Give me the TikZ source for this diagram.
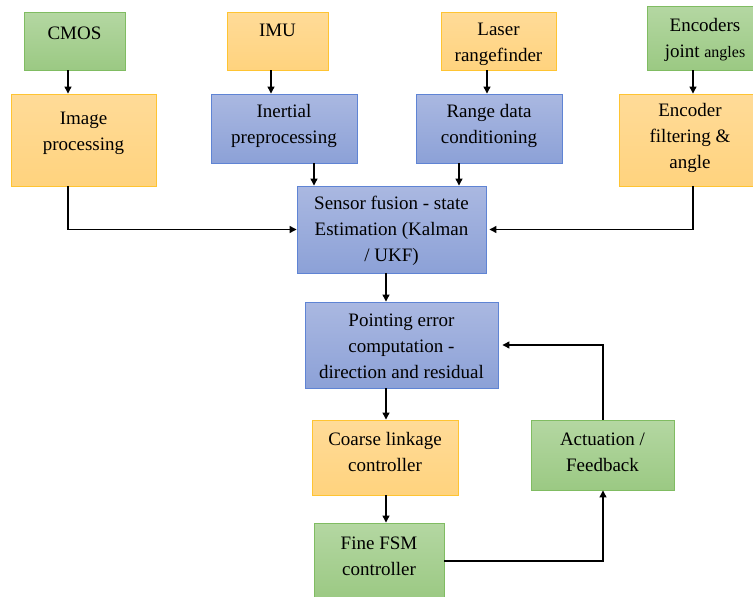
\documentclass[tikz,border=0pt]{standalone}
\usepackage{fontspec}
\setmainfont{Liberation Serif}
\usetikzlibrary{arrows.meta}
\definecolor{gtop}{RGB}{180,215,162}
\definecolor{gbot}{RGB}{155,201,131}
\definecolor{gline}{RGB}{128,188,98}
\definecolor{otop}{RGB}{255,219,152}
\definecolor{obot}{RGB}{255,211,126}
\definecolor{oline}{RGB}{255,196,50}
\definecolor{btop}{RGB}{170,184,225}
\definecolor{bbot}{RGB}{140,161,215}
\definecolor{bline}{RGB}{95,132,212}
\tikzset{
  box/.style={rectangle, inner sep=0pt, line width=0.9pt},
  greenbox/.style={box, draw=gline, top color=gtop, bottom color=gbot},
  orangebox/.style={box, draw=oline, top color=otop, bottom color=obot},
  bluebox/.style={box, draw=bline, top color=btop, bottom color=bbot},
  lbl/.style={inner sep=0pt, align=center, font=\fontsize{19}{26}\selectfont, text=black},
  conn/.style={line width=1.2pt, -{Triangle[length=7pt,width=7pt]}}
}
\begin{document}
\begin{tikzpicture}[x=1pt,y=-1pt]
\useasboundingbox (0,0) rectangle (753,597);
% boxes
\node[greenbox, minimum width=101pt, minimum height=58pt] (cmos) at (74.5,41) {};
\node[orangebox, minimum width=101pt, minimum height=58pt] (imu) at (277.5,41) {};
\node[orangebox, minimum width=115pt, minimum height=58pt] (laser) at (498.5,41) {};
\node[greenbox, minimum width=116pt, minimum height=64pt] (enc) at (705,38) {};
\node[orangebox, minimum width=145pt, minimum height=92pt] (img) at (83.5,140) {};
\node[bluebox, minimum width=146pt, minimum height=69pt] (inert) at (284,128.5) {};
\node[bluebox, minimum width=146pt, minimum height=69pt] (range) at (489,128.5) {};
\node[orangebox, minimum width=142pt, minimum height=92pt] (encf) at (690,140) {};
\node[bluebox, minimum width=189pt, minimum height=87pt] (fus) at (391.5,229.5) {};
\node[bluebox, minimum width=193pt, minimum height=86pt] (pe) at (401.5,345) {};
\node[orangebox, minimum width=146pt, minimum height=75pt] (coarse) at (385,457.5) {};
\node[greenbox, minimum width=143pt, minimum height=70pt] (act) at (602.5,455) {};
\node[greenbox, minimum width=130pt, minimum height=76pt] (fine) at (379,561) {};
% labels
\node[lbl] (cmosT) at (74.5,33.5) {CMOS};
\node[lbl] (imuT) at (277.5,30.5) {IMU};
\node[lbl] (laserT) at (498.5,44.5) {Laser\\rangefinder};
\node[lbl] (encT) at (705,40) {Encoders\\joint {\fontsize{16}{20}\selectfont angles}};
\node[lbl] (imgT) at (83.5,133.5) {Image\\processing};
\node[lbl] (inertT) at (284,126) {Inertial\\preprocessing};
\node[lbl] (rangeT) at (489,125.5) {Range data\\conditioning};
\node[lbl] (encfT) at (690,138) {Encoder\\filtering \&\\angle};
\node[lbl] (fusT) at (391.5,231) {Sensor fusion - state\\Estimation (Kalman\\/ UKF)};
\node[lbl] (peT) at (401.5,346) {Pointing error\\computation -\\direction and residual};
\node[lbl] (coarseT) at (385,452) {Coarse linkage\\controller};
\node[lbl] (actT) at (602.5,452) {Actuation /\\Feedback};
\node[lbl] (fineT) at (379,556) {Fine FSM\\controller};
% connectors
\draw[conn] (cmos.south -| 68,0) -- (img.north -| 68,0);
\draw[conn] (imu.south -| 271,0) -- (inert.north -| 271,0);
\draw[conn] (laser.south -| 487,0) -- (range.north -| 487,0);
\draw[conn] (enc.south -| 693,0) -- (encf.north -| 693,0);
\draw[conn] (inert.south -| 314,0) -- (fus.north -| 314,0);
\draw[conn] (range.south -| 459,0) -- (fus.north -| 459,0);
\draw[conn] (img.south -| 68,0) |- (fus.west);
\draw[conn] (encf.south -| 693,0) |- ([xshift=3pt]fus.east);
\draw[conn] (fus.south -| 386,0) -- (pe.north -| 386,0);
\draw[conn] (pe.south -| 386,0) -- (coarse.north -| 386,0);
\draw[conn] (coarse.south -| 386,0) -- (fine.north -| 386,0);
\draw[conn] (fine.east) -| (act.south -| 603,0);
\draw[conn] (act.north -| 603,0) |- ([xshift=4pt]pe.east);
\end{tikzpicture}
\end{document}
